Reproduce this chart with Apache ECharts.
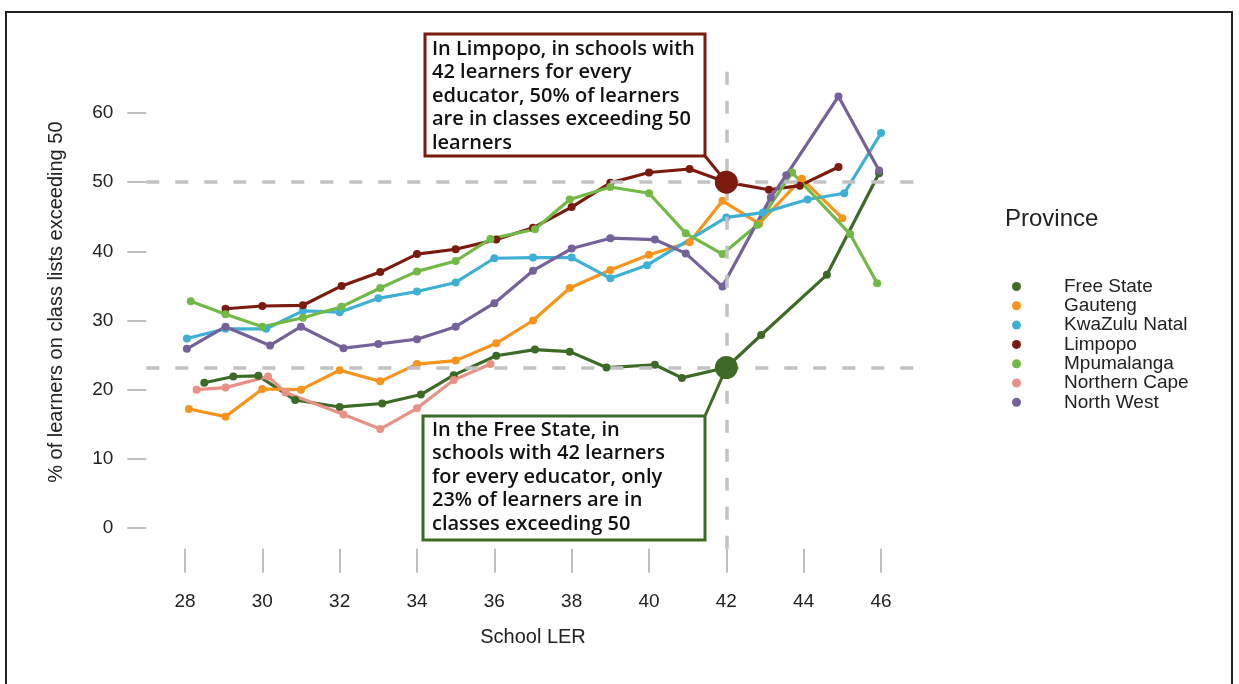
<!DOCTYPE html>
<html>
<head>
<meta charset="utf-8">
<script src="https://cdn.jsdelivr.net/npm/echarts@6/dist/echarts.min.js"></script>
<style>
html, body { margin: 0; padding: 0; background: #fff; }
#main { width: 1239px; height: 684px; }
</style>
</head>
<body>
<div id="main"></div>
<script>
// [School LER, % of learners in classes > 50]
var freeState = [[28.5,21.0],[29.25,21.9],[29.9,22.0],[30.85,18.5],[32.0,17.5],[33.1,18.0],[34.1,19.3],[34.95,22.1],[36.05,24.9],[37.05,25.8],[37.95,25.5],[38.9,23.2],[40.15,23.6],[40.85,21.7],[42,23.2],[42.9,27.9],[44.6,36.6],[45.95,51.3]];
var gauteng = [[28.1,17.2],[29.05,16.1],[30.0,20.1],[31.0,20.0],[32.0,22.8],[33.05,21.2],[34.0,23.7],[35.0,24.2],[36.05,26.7],[37.0,30.0],[37.95,34.7],[39.0,37.3],[40.0,39.5],[41.05,41.3],[41.9,47.3],[42.85,44.0],[43.95,50.5],[45.0,44.8]];
var kwazuluNatal = [[28.05,27.4],[29.05,28.8],[30.1,28.8],[31.05,31.4],[32.0,31.2],[33.0,33.2],[34.0,34.2],[35.0,35.5],[36.0,39.0],[37.0,39.1],[38.0,39.1],[39.0,36.1],[39.95,38.0],[42.0,44.9],[42.95,45.6],[44.1,47.5],[45.05,48.4],[46.0,57.1]];
var limpopo = [[29.05,31.7],[30.0,32.1],[31.05,32.2],[32.05,35.0],[33.05,37.0],[34.0,39.6],[35.0,40.3],[36.05,41.7],[37.0,43.4],[38.0,46.4],[39.0,49.9],[40.0,51.4],[41.05,51.9],[42,50.0],[43.1,48.9],[43.9,49.5],[44.9,52.2]];
var mpumalanga = [[28.15,32.8],[29.05,30.9],[30.0,29.1],[31.05,30.4],[32.05,32.0],[33.05,34.7],[34.0,37.1],[35.0,38.6],[35.9,41.8],[37.05,43.2],[37.95,47.5],[39.0,49.3],[40.0,48.4],[40.95,42.6],[41.9,39.6],[42.8,43.8],[43.7,51.4],[45.2,42.5],[45.9,35.4]];
var northernCape = [[28.3,20.0],[29.05,20.3],[30.15,21.9],[30.6,19.6],[32.1,16.4],[33.05,14.3],[34.0,17.3],[34.95,21.4],[35.9,23.7]];
var northWest = [[28.05,25.9],[29.05,29.1],[30.2,26.4],[31.0,29.1],[32.1,26.0],[33.0,26.6],[34.0,27.3],[35.0,29.1],[36.0,32.5],[37.0,37.2],[38.0,40.4],[39.0,41.9],[40.15,41.7],[40.95,39.7],[41.9,34.9],[43.15,47.8],[43.55,51.0],[44.9,62.4],[45.95,51.7]];

var provinces = ['Free State', 'Gauteng', 'KwaZulu Natal', 'Limpopo', 'Mpumalanga', 'Northern Cape', 'North West'];
var colors = ['#3d6b27', '#f7941d', '#3fb0d5', '#7b1a0e', '#72b946', '#e99186', '#76629a'];
var xTicks = [28, 30, 32, 34, 36, 38, 40, 42, 44, 46];
var yTicks = [0, 10, 20, 30, 40, 50, 60];
var focusLER = 42;

var limpopoNote = 'In Limpopo, in schools with\n42 learners for every\neducator, 50% of learners\nare in classes exceeding 50\nlearners';
var freeStateNote = 'In the Free State, in\nschools with 42 learners\nfor every educator, only\n23% of learners are in\nclasses exceeding 50';

function valueAt(arr, x) {
  for (var i = 0; i < arr.length; i++) if (arr[i][0] === x) return arr[i][1];
}
var limpopoFocus = valueAt(limpopo, focusLER);
var freeStateFocus = valueAt(freeState, focusLER);

var chart = echarts.init(document.getElementById('main'));
var allData = [freeState, gauteng, kwazuluNatal, limpopo, mpumalanga, northernCape, northWest];
var dashStyle = { color: '#c2c2c2', width: 3.5, type: [13, 16] };

var series = allData.map(function (d, i) {
  return {
    name: provinces[i],
    type: 'line',
    data: d,
    symbol: 'circle',
    symbolSize: 8,
    color: colors[i],
    lineStyle: { width: 3.2 },
    z: 3
  };
});
// reference lines
series.push({
  type: 'line',
  data: [],
  silent: true,
  z: 1,
  markLine: {
    silent: true,
    symbol: 'none',
    label: { show: false },
    lineStyle: dashStyle,
    data: [{ yAxis: limpopoFocus }, { yAxis: freeStateFocus }, { xAxis: focusLER }]
  }
});
// highlighted points
series.push({
  type: 'scatter',
  data: [[focusLER, limpopoFocus]],
  symbolSize: 23,
  itemStyle: { color: colors[3], opacity: 1 },
  z: 5
});
series.push({
  type: 'scatter',
  data: [[focusLER, freeStateFocus]],
  symbolSize: 23,
  itemStyle: { color: colors[0], opacity: 1 },
  z: 5
});

var tickFont = { fontFamily: 'Liberation Sans', fontSize: 19, color: '#222' };

var option = {
  animation: false,
  backgroundColor: '#fff',
  grid: { left: 146.3, right: 319.3, top: 71.5, bottom: 135.25, containLabel: false },
  xAxis: {
    type: 'value',
    min: 27,
    max: 47,
    name: 'School LER',
    nameLocation: 'middle',
    nameGap: 79,
    nameTextStyle: { fontFamily: 'Liberation Sans', fontSize: 20, color: '#222' },
    axisLine: { show: false, onZero: false },
    splitLine: { show: false },
    axisTick: { show: true, length: 24, customValues: xTicks, lineStyle: { color: '#aaa', width: 1.5 } },
    axisLabel: Object.assign({ margin: 44, customValues: xTicks }, tickFont)
  },
  yAxis: {
    type: 'value',
    min: -3,
    max: 66,
    name: '% of learners on class lists exceeding 50',
    nameLocation: 'middle',
    nameGap: 80,
    nameRotate: 90,
    nameTextStyle: { fontFamily: 'Liberation Sans', fontSize: 20, color: '#222', padding: [0, 0, 0, 16] },
    axisLine: { show: false, onZero: false },
    splitLine: { show: false },
    axisTick: { show: true, length: 19, customValues: yTicks, lineStyle: { color: '#aaa', width: 1.5 } },
    axisLabel: Object.assign({ margin: 33, customValues: yTicks }, tickFont)
  },
  legend: {
    data: provinces,
    orient: 'vertical',
    left: 1007,
    top: 272,
    icon: 'circle',
    itemWidth: 9,
    itemHeight: 9,
    itemGap: 0.3,
    textStyle: { fontFamily: 'Liberation Sans', fontSize: 19, color: '#222', lineHeight: 18, padding: [0, 0, 0, 38] }
  },
  title: {
    text: 'Province',
    left: 1000,
    top: 202,
    textStyle: { fontFamily: 'Liberation Sans', fontSize: 24, fontWeight: 'normal', color: '#222' }
  },
  series: series
};
chart.setOption(option);

var pLim = chart.convertToPixel({ gridIndex: 0 }, [focusLER, limpopoFocus]);
var pFS = chart.convertToPixel({ gridIndex: 0 }, [focusLER, freeStateFocus]);
var noteFont = { fontFamily: 'Open Sans', fontSize: 20, fontWeight: 600, lineHeight: 23.6, fill: '#111' };

chart.setOption({
  graphic: [
    { type: 'rect', shape: { x: 6, y: 12, width: 1226, height: 700 }, style: { fill: null, stroke: '#222', lineWidth: 2 }, z: 0, silent: true },
    { type: 'line', shape: { x1: 705, y1: 156, x2: pLim[0], y2: pLim[1] }, style: { stroke: colors[3], lineWidth: 3 }, z: 4 },
    { type: 'rect', shape: { x: 425, y: 34, width: 280, height: 122 }, style: { fill: '#fff', stroke: colors[3], lineWidth: 3 }, z: 6 },
    { type: 'text', x: 432, y: 37, style: Object.assign({ text: limpopoNote }, noteFont), z: 7 },
    { type: 'line', shape: { x1: 705, y1: 416, x2: pFS[0], y2: pFS[1] }, style: { stroke: colors[0], lineWidth: 3 }, z: 4 },
    { type: 'rect', shape: { x: 423, y: 416, width: 282, height: 124 }, style: { fill: '#fff', stroke: colors[0], lineWidth: 3 }, z: 6 },
    { type: 'text', x: 432, y: 418, style: Object.assign({ text: freeStateNote }, noteFont), z: 7 }
  ]
});
</script>
</body>
</html>
